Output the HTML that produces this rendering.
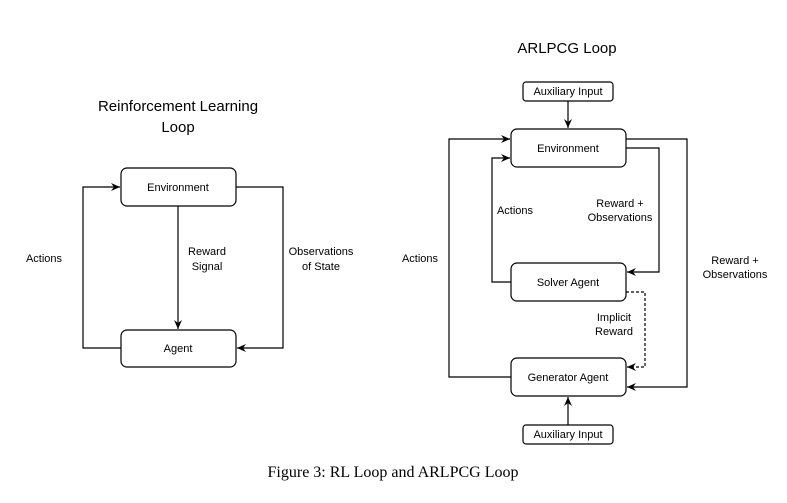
<!DOCTYPE html>
<html><head><style>
html,body{margin:0;padding:0;background:#fff;}
svg{display:block;font-family:"Liberation Sans",Arial,sans-serif;}
</style></head><body>
<svg width="787" height="503" viewBox="0 0 787 503" xmlns="http://www.w3.org/2000/svg">
<defs>
<marker id="a" markerWidth="10" markerHeight="10" refX="9" refY="5" orient="auto" markerUnits="userSpaceOnUse">
<path d="M0,1 L9,5 L0,9 L3,5 Z" fill="#000"/>
</marker>
</defs>
<g fill="none" stroke="#000" stroke-width="1.2">
<!-- Left diagram -->
<rect x="121" y="168" width="115" height="38" rx="6" fill="#fff"/>
<rect x="121" y="330" width="115" height="37" rx="6" fill="#fff"/>
<path d="M121,348 H83 V187 H120" marker-end="url(#a)"/>
<path d="M236,187 H283 V348 H237" marker-end="url(#a)"/>
<path d="M178,206 V329" marker-end="url(#a)"/>
<!-- Right diagram -->
<rect x="523" y="82" width="90" height="19" rx="3" fill="#fff"/>
<rect x="511" y="129" width="115" height="38" rx="6" fill="#fff"/>
<rect x="511" y="263" width="115" height="38" rx="6" fill="#fff"/>
<rect x="511" y="358" width="115" height="38" rx="6" fill="#fff"/>
<rect x="523" y="425" width="90" height="19" rx="3" fill="#fff"/>
<path d="M568,101 V128" marker-end="url(#a)"/>
<path d="M568,425 V397" marker-end="url(#a)"/>
<path d="M511,377 H449 V139 H510" marker-end="url(#a)"/>
<path d="M511,282 H492 V158 H510" marker-end="url(#a)"/>
<path d="M626,148 H659 V272 H627" marker-end="url(#a)"/>
<path d="M626,139 H687 V387 H627" marker-end="url(#a)"/>
<path d="M626,292 H645 V367 H627" stroke-dasharray="3,2" marker-end="url(#a)"/>
</g>
<g font-size="11" fill="#000" text-anchor="middle">
<text x="178" y="191">Environment</text>
<text x="178" y="352">Agent</text>
<text x="44" y="262">Actions</text>
<text x="207" y="255">Reward</text>
<text x="207" y="270">Signal</text>
<text x="321" y="255">Observations</text>
<text x="321" y="270">of State</text>
<text x="568" y="95">Auxiliary Input</text>
<text x="568" y="152">Environment</text>
<text x="568" y="286">Solver Agent</text>
<text x="568" y="381">Generator Agent</text>
<text x="568" y="438">Auxiliary Input</text>
<text x="420" y="262">Actions</text>
<text x="515" y="214">Actions</text>
<text x="620" y="207">Reward +</text>
<text x="620" y="221">Observations</text>
<text x="735" y="264">Reward +</text>
<text x="735" y="278">Observations</text>
<text x="614" y="321">Implicit</text>
<text x="614" y="335">Reward</text>
</g>
<g font-size="15" fill="#000" text-anchor="middle">
<text x="178" y="111">Reinforcement Learning</text>
<text x="178" y="132">Loop</text>
<text x="567" y="53">ARLPCG Loop</text>
</g>
<text x="393" y="477" font-size="16" text-anchor="middle" font-family="'Liberation Serif',serif">Figure 3: RL Loop and ARLPCG Loop</text>
</svg>
</body></html>
